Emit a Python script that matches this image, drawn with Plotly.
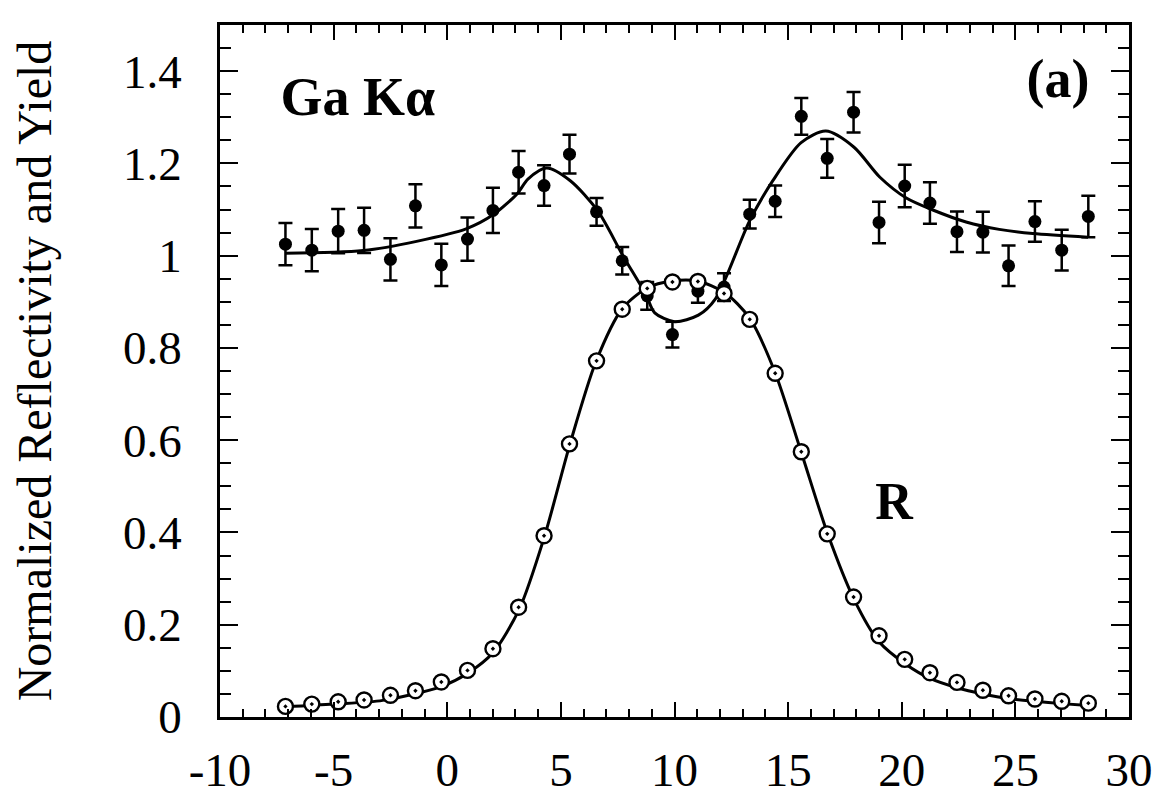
import plotly.graph_objects as go

# Measurement angles (shared by both data sets)
x_pts = [-7.12, -5.96, -4.80, -3.66, -2.50, -1.40, -0.26, 0.89, 2.01, 3.14,
         4.26, 5.38, 6.57, 7.70, 8.80, 9.91, 11.03, 12.18, 13.31, 14.43,
         15.58, 16.72, 17.88, 19.0, 20.13, 21.24, 22.43, 23.57, 24.70, 25.86,
         27.04, 28.21]

# Ga K-alpha fluorescence yield (filled points) with error bars
yield_vals = [1.025, 1.012, 1.053, 1.055, 0.992, 1.108, 0.980, 1.036, 1.098, 1.181,
              1.152, 1.220, 1.095, 0.989, 0.913, 0.829, 0.923, 0.932, 1.090, 1.118,
              1.302, 1.211, 1.311, 1.072, 1.151, 1.114, 1.052, 1.051, 0.978, 1.074,
              1.012, 1.085]
yield_err = [0.046, 0.046, 0.048, 0.049, 0.046, 0.047, 0.046, 0.047, 0.049, 0.046,
             0.044, 0.042, 0.030, 0.030, 0.030, 0.028, 0.025, 0.030, 0.031, 0.034,
             0.040, 0.042, 0.044, 0.045, 0.046, 0.045, 0.044, 0.044, 0.044, 0.044,
             0.044, 0.045]

# Reflectivity (open circles)
refl_vals = [0.023, 0.028, 0.033, 0.037, 0.047, 0.057, 0.076, 0.101, 0.148, 0.238,
             0.393, 0.592, 0.772, 0.884, 0.929, 0.943, 0.944, 0.918, 0.862, 0.745,
             0.575, 0.397, 0.260, 0.176, 0.125, 0.096, 0.075, 0.058, 0.046, 0.039,
             0.034, 0.030]

# Theoretical fit curves
yfit_x = [-7.12, -3.7, -1.35, 0.83, 2.03, 3.09, 3.55, 4.37, 5.4, 6.61, 7.73, 8.75,
          9.13, 10.0, 11.05, 11.81, 13.3, 14.32, 15.57, 16.66, 17.9, 19.04, 20.2,
          21.37, 22.83, 24.29, 25.77, 28.2]
yfit_y = [1.005, 1.011, 1.031, 1.058, 1.089, 1.135, 1.166, 1.19, 1.163, 1.098, 1.0, 0.915,
          0.876, 0.857, 0.871, 0.907, 1.075, 1.162, 1.245, 1.27, 1.235, 1.17, 1.125,
          1.099, 1.073, 1.057, 1.048, 1.04]

rfit_x = [-7.12, -5.0, -2.84, -0.27, 0.9, 2.02, 3.18, 4.27, 5.39, 6.54, 7.7, 8.8,
          9.9, 11.0, 12.2, 13.3, 14.4, 15.57, 16.74, 17.9, 19.0, 20.16, 21.27, 22.46,
          23.58, 24.7, 25.86, 27.04, 28.2]
rfit_y = [0.022, 0.028, 0.036, 0.066, 0.095, 0.14, 0.235, 0.39, 0.59, 0.77, 0.885, 0.93,
          0.945, 0.945, 0.92, 0.865, 0.75, 0.575, 0.397, 0.255, 0.163, 0.115, 0.083,
          0.063, 0.05, 0.04, 0.034, 0.029, 0.025]

x_ticks = [-10, -5, 0, 5, 10, 15, 20, 25, 30]
x_ticklabels = ["-10", "-5", "0", "5", "10", "15", "20", "25", "30"]
y_ticks = [0, 0.2, 0.4, 0.6, 0.8, 1, 1.2, 1.4]
y_ticklabels = ["0", "0.2", "0.4", "0.6", "0.8", "1", "1.2", "1.4"]

# In-plot labels (text, x, y in data units)
label_texts = ["<b>Ga Kα</b>", "<b>(a)</b>", "<b>R</b>"]
label_x = [-3.93, 26.88, 19.66]
label_y = [1.335, 1.374, 0.458]
label_sizes = [54, 54, 52]

SERIF = "Liberation Serif"

fig = go.Figure()

fig.add_trace(go.Scatter(x=rfit_x, y=rfit_y, mode="lines",
                         line=dict(color="black", width=3, shape="spline", smoothing=0.8),
                         hoverinfo="skip", showlegend=False))
fig.add_trace(go.Scatter(x=yfit_x, y=yfit_y, mode="lines",
                         line=dict(color="black", width=3, shape="spline", smoothing=0.8),
                         hoverinfo="skip", showlegend=False))

fig.add_trace(go.Scatter(x=x_pts, y=yield_vals, mode="markers",
                         marker=dict(symbol="circle", size=13, color="black"),
                         error_y=dict(type="data", array=yield_err, visible=True,
                                      color="black", thickness=2.5, width=7),
                         showlegend=False, name="Yield"))

fig.add_trace(go.Scatter(x=x_pts, y=refl_vals, mode="markers",
                         marker=dict(symbol="circle-dot", size=15, color="white",
                                     line=dict(color="black", width=2.4)),
                         showlegend=False, name="R"))

fig.add_trace(go.Scatter(x=label_x, y=label_y, mode="text", text=label_texts,
                         textposition="middle center",
                         textfont=dict(family=SERIF, size=label_sizes, color="black"),
                         hoverinfo="skip", showlegend=False))

fig.update_xaxes(range=[-10, 30], tickvals=x_ticks, ticktext=x_ticklabels,
                 ticks="inside", ticklen=15,
                 tickwidth=2, tickcolor="black", showline=True, linecolor="black",
                 linewidth=2.5, mirror="ticks", showgrid=False, zeroline=False,
                 minor=dict(dtick=1, ticks="inside", ticklen=8, tickwidth=2,
                            tickcolor="black", showgrid=False),
                 tickfont=dict(family=SERIF, size=47, color="black"),
                 ticklabelstandoff=10, automargin=False)
fig.update_yaxes(range=[0, 1.5], tickvals=y_ticks, ticktext=y_ticklabels,
                 ticks="inside", ticklen=18,
                 tickwidth=2, tickcolor="black", showline=True, linecolor="black",
                 linewidth=2.5, mirror="ticks", showgrid=False, zeroline=False,
                 minor=dict(dtick=0.05, ticks="inside", ticklen=11, tickwidth=2,
                            tickcolor="black", showgrid=False),
                 tickfont=dict(family=SERIF, size=47, color="black"),
                 ticklabelstandoff=26, automargin=True,
                 title=dict(text="Normalized Reflectivity and Yield", standoff=57,
                            font=dict(family=SERIF, size=48, color="black")))

fig.update_layout(width=1161, height=795, margin=dict(l=212, r=40, t=17, b=86),
                  plot_bgcolor="white", paper_bgcolor="white",
                  font=dict(family=SERIF, color="black"))

fig.write_html("out.html")
